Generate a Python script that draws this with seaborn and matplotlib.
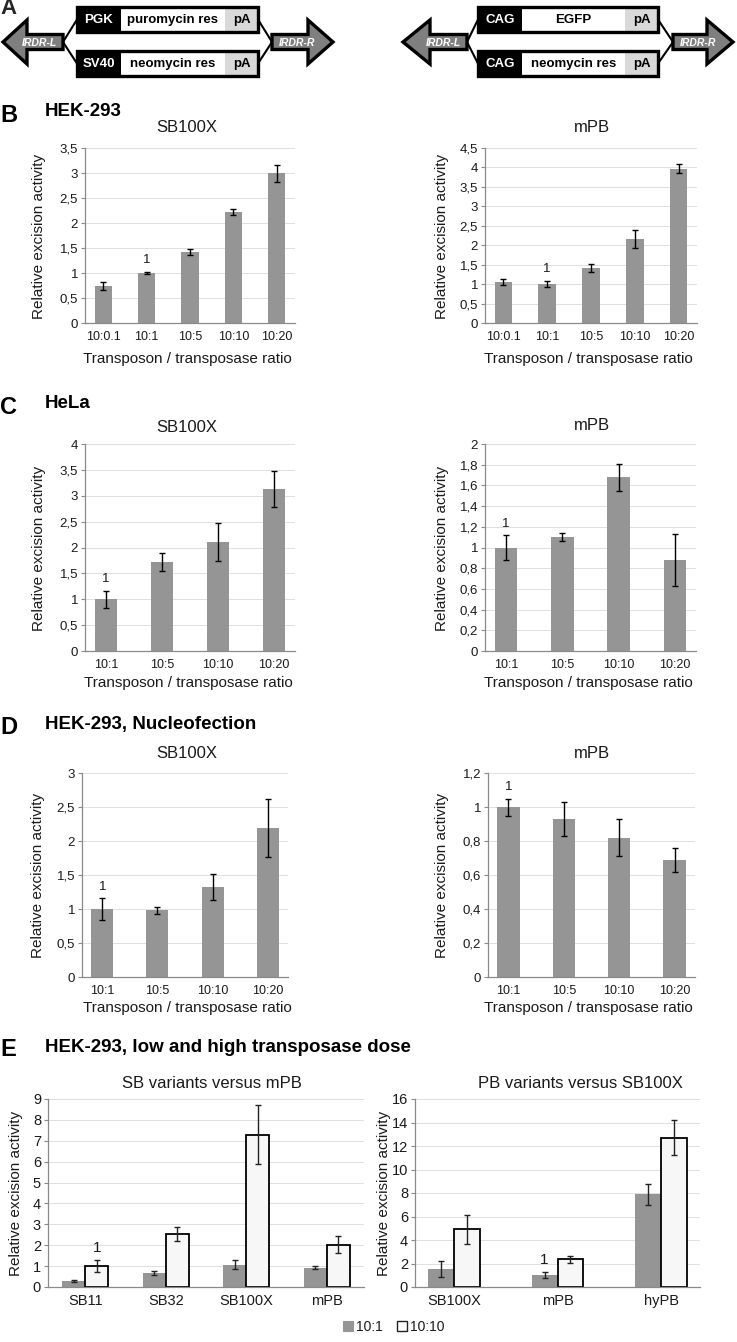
import matplotlib
matplotlib.use("Agg")
import matplotlib.pyplot as plt
import seaborn as sns
import pandas as pd
from matplotlib.patches import Polygon, Rectangle
from matplotlib.ticker import FuncFormatter, MultipleLocator

# ---------------- data ----------------
ratios5 = ["10:0.1", "10:1", "10:5", "10:10", "10:20"]
ratios4 = ["10:1", "10:5", "10:10", "10:20"]

b_sb_vals = [0.75, 1.0, 1.42, 2.23, 3.0]
b_sb_err = [0.08, 0.02, 0.06, 0.06, 0.17]
b_pb_vals = [1.05, 1.0, 1.42, 2.17, 3.97]
b_pb_err = [0.08, 0.08, 0.10, 0.23, 0.12]

c_sb_vals = [1.0, 1.72, 2.10, 3.13]
c_sb_err = [0.16, 0.18, 0.37, 0.35]
c_pb_vals = [1.0, 1.10, 1.68, 0.88]
c_pb_err = [0.12, 0.04, 0.13, 0.25]

d_sb_vals = [1.0, 0.98, 1.32, 2.19]
d_sb_err = [0.16, 0.05, 0.19, 0.43]
d_pb_vals = [1.0, 0.93, 0.82, 0.69]
d_pb_err = [0.05, 0.10, 0.11, 0.07]

dose_labels = ["10:1", "10:10"]
e_sb_cats = ["SB11", "SB32", "SB100X", "mPB"]
e_sb_low = [0.27, 0.68, 1.07, 0.92]
e_sb_low_err = [0.05, 0.10, 0.22, 0.08]
e_sb_high = [1.0, 2.53, 7.30, 2.02]
e_sb_high_err = [0.27, 0.35, 1.40, 0.40]

e_pb_cats = ["SB100X", "mPB", "hyPB"]
e_pb_low = [1.55, 1.0, 7.9]
e_pb_low_err = [0.70, 0.25, 0.90]
e_pb_high = [4.9, 2.35, 12.7]
e_pb_high_err = [1.20, 0.30, 1.50]

# ---------------- style ----------------
sns.set_style("white")
plt.rcParams["font.family"] = ["Liberation Sans", "DejaVu Sans"]

W, H = 737, 1342
GRAY = "#959595"
TXT = "#1a1a1a"
fig = plt.figure(figsize=(W / 100, H / 100), dpi=100)


def px_axes(x0, x1, ytop, ybot):
    return fig.add_axes([x0 / W, 1 - ybot / H, (x1 - x0) / W, (ybot - ytop) / H])


def ftext(x, y, s, **kw):
    fig.text(x / W, 1 - y / H, s, **kw)


comma = FuncFormatter(lambda v, p: f"{round(v, 3):g}".replace(".", ","))


def style_axes(ax, ymax, step, xpad=6, ysize=9.5, xsize=9):
    ax.set_ylim(0, ymax)
    ax.yaxis.set_major_locator(MultipleLocator(step))
    ax.yaxis.set_major_formatter(comma)
    ax.yaxis.grid(True, color="#e0e0e0", lw=0.7)
    ax.xaxis.grid(False)
    ax.set_axisbelow(True)
    for s in ["top", "right"]:
        ax.spines[s].set_visible(False)
    for s in ["left", "bottom"]:
        ax.spines[s].set_color("#8a8a8a")
        ax.spines[s].set_linewidth(0.9)
    ax.tick_params(axis="y", length=3, width=0.8, color="#8a8a8a",
                   labelsize=ysize, pad=2, labelcolor=TXT, left=True)
    ax.tick_params(axis="x", length=0, labelsize=xsize, pad=xpad, labelcolor=TXT)
    ax.set_xlabel("")
    ax.set_ylabel("")


def single_panel(rect, cats, vals, errs, ymax, step, ref_idx):
    ax = px_axes(*rect)
    df = pd.DataFrame({"ratio": cats, "activity": vals})
    sns.barplot(data=df, x="ratio", y="activity", color=GRAY, width=0.4,
                saturation=1, errorbar=None, linewidth=0, ax=ax)
    cont = ax.containers[0]
    xs = [p.get_x() + p.get_width() / 2 for p in cont]
    ax.errorbar(xs, vals, yerr=errs, fmt="none", ecolor="black",
                elinewidth=1, capsize=2.5, capthick=1)
    ax.annotate("1", (xs[ref_idx], vals[ref_idx] + errs[ref_idx]),
                xytext=(0, 4), textcoords="offset points", ha="center",
                va="bottom", fontsize=9.5, color=TXT)
    style_axes(ax, ymax, step)
    return ax


def hue_panel(rect, cats, low, low_err, high, high_err, ymax, step, width,
              ref_series, ref_idx):
    ax = px_axes(*rect)
    df = pd.DataFrame({
        "variant": cats + cats,
        "activity": low + high,
        "dose": [dose_labels[0]] * len(cats) + [dose_labels[1]] * len(cats),
    })
    sns.barplot(data=df, x="variant", y="activity", hue="dose",
                hue_order=dose_labels, palette=[GRAY, "#f7f7f7"],
                width=width, saturation=1, errorbar=None, ax=ax, legend=False)
    series = [(low, low_err), (high, high_err)]
    for k, (cont, (v, e)) in enumerate(zip(ax.containers, series)):
        for p in cont:
            if k == 1:
                p.set_edgecolor("black")
                p.set_linewidth(1.3)
            else:
                p.set_edgecolor(GRAY)
                p.set_linewidth(0)
        xs = [p.get_x() + p.get_width() / 2 for p in cont]
        ax.errorbar(xs, v, yerr=e, fmt="none", ecolor="#222222",
                    elinewidth=1, capsize=2.5, capthick=1, zorder=5)
        if k == ref_series:
            ax.annotate("1", (xs[ref_idx], v[ref_idx] + e[ref_idx]),
                        xytext=(0, 4), textcoords="offset points",
                        ha="center", va="bottom", fontsize=11, color=TXT)
    style_axes(ax, ymax, step, xpad=5, ysize=10.5, xsize=10.5)
    return ax


# ---------------- panel A (construct diagrams) ----------------
axA = fig.add_axes([0, 1 - 82 / H, 1, 82 / H])
axA.set_xlim(0, W)
axA.set_ylim(82, 0)
axA.axis("off")

YC = 42


def left_arrow(tip, base, end, label_x):
    pts = [(tip, YC), (base, YC - 22), (base, YC - 7.5), (end, YC - 7.5),
           (end, YC + 7.5), (base, YC + 7.5), (base, YC + 22)]
    axA.add_patch(Polygon(pts, closed=True, fc="#7f7f7f", ec="black",
                          lw=2.4, joinstyle="miter"))
    axA.text(label_x, YC + 0.5, "IRDR-L", color="white", fontsize=7.5,
             fontweight="bold", fontstyle="italic", ha="center", va="center")


def right_arrow(start, base, tip, label_x):
    pts = [(start, YC - 7.5), (base, YC - 7.5), (base, YC - 22), (tip, YC),
           (base, YC + 22), (base, YC + 7.5), (start, YC + 7.5)]
    axA.add_patch(Polygon(pts, closed=True, fc="#7f7f7f", ec="black",
                          lw=2.4, joinstyle="miter"))
    axA.text(label_x, YC + 0.5, "IRDR-R", color="white", fontsize=7.5,
             fontweight="bold", fontstyle="italic", ha="center", va="center")


def cassette(y0, y1, segs):
    for xs, xe, fc, txt, tc in segs:
        axA.add_patch(Rectangle((xs, y0), xe - xs, y1 - y0, fc=fc, ec="none"))
        axA.text((xs + xe) / 2, (y0 + y1) / 2 + 0.5, txt, color=tc,
                 fontsize=9.5, fontweight="bold", ha="center", va="center")
    x0, x1 = segs[0][0], segs[-1][1]
    axA.add_patch(Rectangle((x0, y0), x1 - x0, y1 - y0, fc="none",
                            ec="black", lw=2.4))


def construct(tipL, baseL, endL, box0, box1, box2, box3, startR, baseR, tipR,
              top_labels, bot_labels):
    left_arrow(tipL, baseL, endL, endL - 24)
    right_arrow(startR, baseR, tipR, startR + 25)
    rows = [(7, 32, top_labels), (51, 76, bot_labels)]
    for y0, y1, labs in rows:
        cassette(y0, y1, [(box0, box1, "black", labs[0], "white"),
                          (box1, box2, "white", labs[1], "black"),
                          (box2, box3, "#d9d9d9", labs[2], "black")])
        ym = (y0 + y1) / 2
        axA.plot([endL, box0], [YC, ym], color="black", lw=1.5)
        axA.plot([box3, startR], [ym, YC], color="black", lw=1.5)


construct(3, 27, 63, 77, 121, 225, 258, 272, 308, 333,
          ["PGK", "puromycin res", "pA"], ["SV40", "neomycin res", "pA"])
construct(403, 430, 467, 478, 522, 625, 658, 673, 707, 733,
          ["CAG", "EGFP", "pA"], ["CAG", "neomycin res", "pA"])

ftext(0, 8, "A", fontsize=16, fontweight="bold", ha="left", va="center")

# ---------------- panels B-D ----------------
single_panel((85, 295, 148, 323), ratios5, b_sb_vals, b_sb_err, 3.5, 0.5, 1)
single_panel((485, 697, 148, 323), ratios5, b_pb_vals, b_pb_err, 4.5, 0.5, 1)
single_panel((85, 295, 444, 651), ratios4, c_sb_vals, c_sb_err, 4, 0.5, 0)
single_panel((485, 696, 444, 651), ratios4, c_pb_vals, c_pb_err, 2, 0.2, 0)
single_panel((82, 288, 773, 977), ratios4, d_sb_vals, d_sb_err, 3, 0.5, 0)
single_panel((488, 695, 773, 977), ratios4, d_pb_vals, d_pb_err, 1.2, 0.2, 0)

# ---------------- panel E ----------------
axE1 = hue_panel((48, 364, 1099, 1287), e_sb_cats, e_sb_low, e_sb_low_err,
                 e_sb_high, e_sb_high_err, 9, 1, 0.57, 1, 0)
axE2 = hue_panel((415, 700, 1099, 1287), e_pb_cats, e_pb_low, e_pb_low_err,
                 e_pb_high, e_pb_high_err, 16, 2, 0.5, 0, 1)

handles = [Rectangle((0, 0), 1, 1, fc=GRAY, ec=GRAY, lw=0.8),
           Rectangle((0, 0), 1, 1, fc="white", ec="#222222", lw=1.0)]
fig.legend(handles=handles, labels=dose_labels, loc="center",
           bbox_to_anchor=(394 / W, 1 - 1327 / H), ncol=2, frameon=False,
           handlelength=0.7, handleheight=0.7, handletextpad=0.25,
           columnspacing=1.0, fontsize=10, labelcolor=TXT)

# ---------------- texts ----------------
sec = dict(fontsize=13.5, fontweight="bold", ha="left", va="center", color="black")
let = dict(fontsize=17, fontweight="bold", ha="left", va="center", color="black")
ftext(0, 115, "B", **let)
ftext(45, 111, "HEK-293", **sec)
ftext(0, 408, "C", **let)
ftext(45, 404, "HeLa", **sec)
ftext(0, 727, "D", **let)
ftext(45, 724, "HEK-293, Nucleofection", **sec)
ftext(0, 1050, "E", **let)
ftext(45, 1048, "HEK-293, low and high transposase dose", **sec)

tt = dict(fontsize=12, ha="center", va="center", color=TXT)
ftext(187, 128, "SB100X", **tt)
ftext(592, 128, "mPB", **tt)
ftext(187, 428, "SB100X", **tt)
ftext(592, 425, "mPB", **tt)
ftext(187, 753, "SB100X", **tt)
ftext(592, 753, "mPB", **tt)
ftext(212, 1083, "SB variants versus mPB", **tt)
ftext(580, 1083, "PB variants versus SB100X", **tt)

xl = dict(fontsize=11, ha="center", va="center", color=TXT)
ftext(187, 359, "Transposon / transposase ratio", **xl)
ftext(588, 359, "Transposon / transposase ratio", **xl)
ftext(188, 683, "Transposon / transposase ratio", **xl)
ftext(588, 683, "Transposon / transposase ratio", **xl)
ftext(187, 1008, "Transposon / transposase ratio", **xl)
ftext(588, 1008, "Transposon / transposase ratio", **xl)

yl = dict(fontsize=11, ha="center", va="center", rotation=90, color=TXT)
ftext(39, 236, "Relative excision activity", **yl)
ftext(442, 236, "Relative excision activity", **yl)
ftext(39, 548, "Relative excision activity", **yl)
ftext(442, 548, "Relative excision activity", **yl)
ftext(38, 875, "Relative excision activity", **yl)
ftext(442, 875, "Relative excision activity", **yl)
ftext(16, 1193, "Relative excision activity", **yl)
ftext(384, 1193, "Relative excision activity", **yl)

fig.savefig("out.png", dpi=100)
